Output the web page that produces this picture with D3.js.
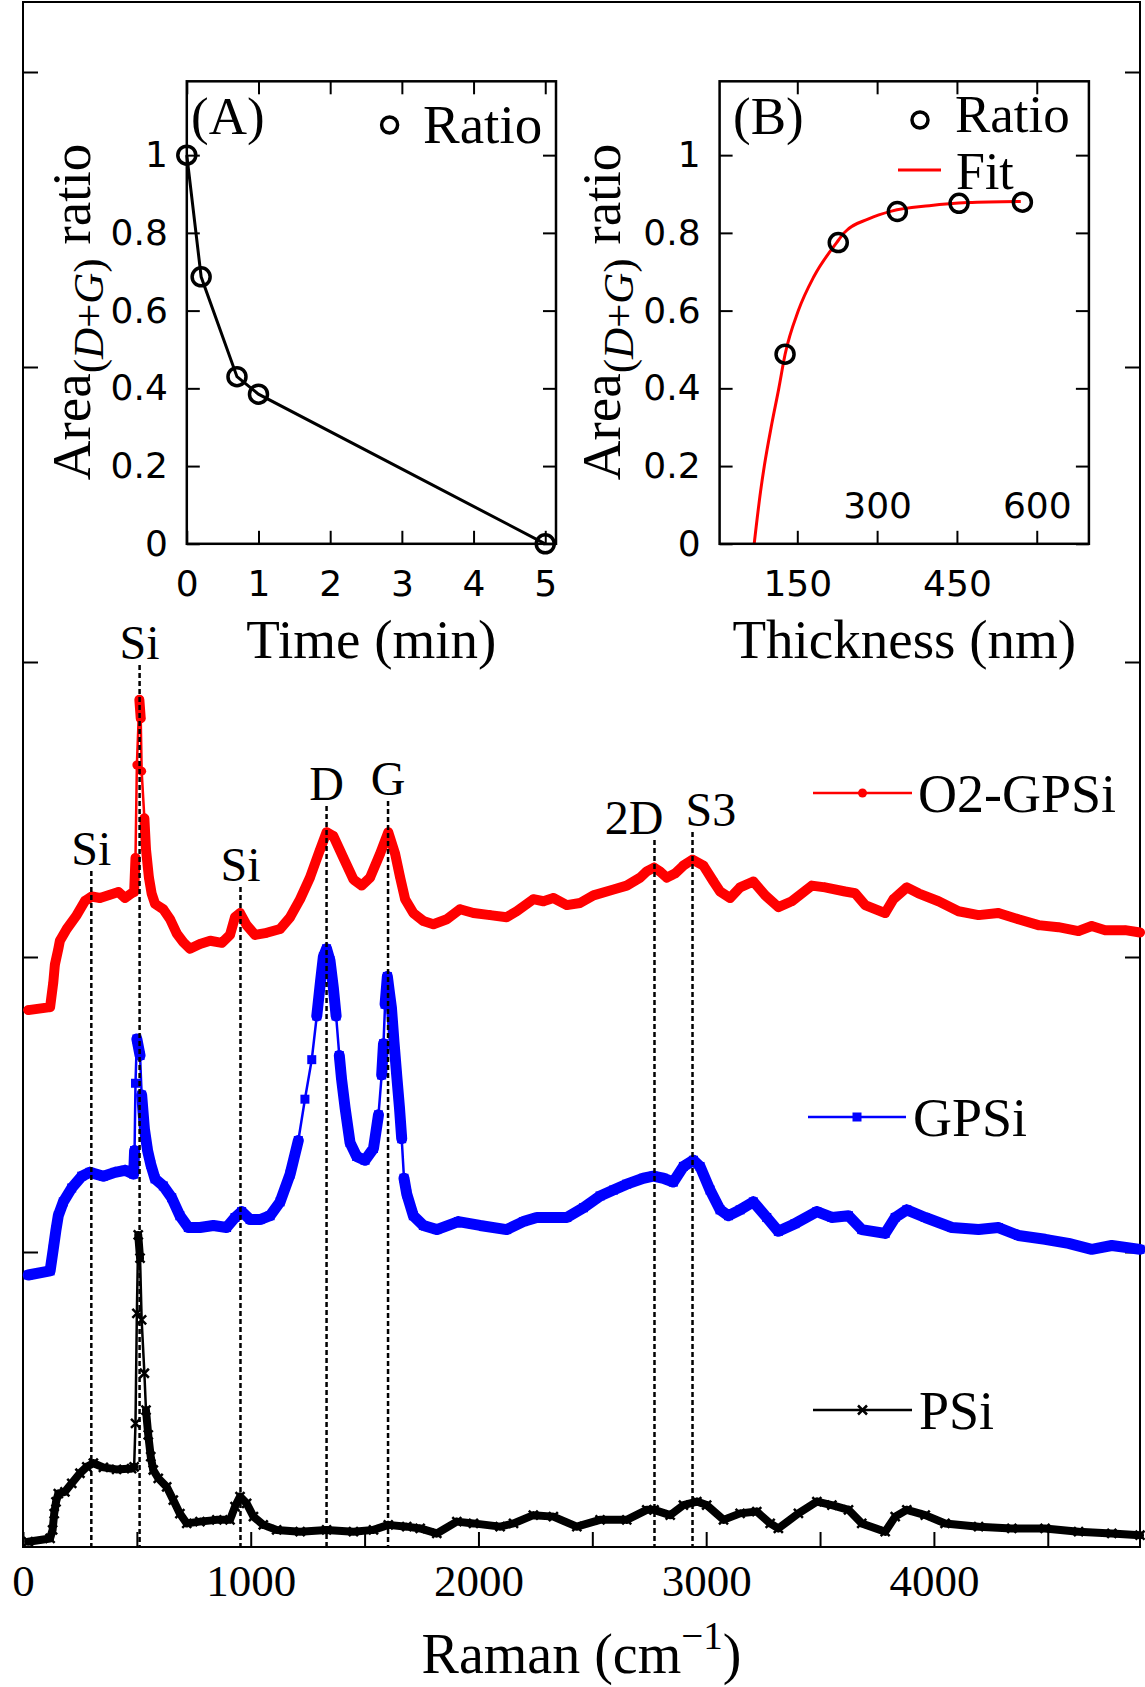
<!DOCTYPE html>
<html lang="en">
<head>
  <meta charset="UTF-8">
  <title>Raman spectra</title>
  <script src="https://d3js.org/d3.v7.min.js"></script>
  <style>
    body { margin: 0; background: #fff; }
    text { font-family: 'Liberation Serif'; }
    text.sans { font-family: 'DejaVu Sans'; }
  </style>
</head>
<body>
  <svg id="chart" width="1145" height="1687" font-family="Liberation Serif"></svg>
  <script>
    // ---- main spectra (Raman shift, cm-1 / stacked intensity) ----
    const o2Shift = [23,119,133,140,155,162,192,236,272,302,338,382,419,448,477,488,494,500,511,517,521,533,540,553,565,580,616,646,675,704,733,777,822,873,909,931,953,982,1019,1070,1129,1173,1217,1260,1304,1333,1363,1407,1451,1487,1524,1568,1604,1634,1656,1678,1714,1758,1802,1861,1919,1978,2051,2124,2168,2241,2285,2329,2388,2446,2505,2593,2651,2710,2739,2771,2797,2827,2863,2900,2940,2988,3032,3061,3105,3149,3207,3259,3317,3376,3464,3522,3610,3654,3698,3786,3822,3881,3932,4020,4108,4196,4283,4371,4459,4547,4635,4693,4752,4840,4905];
    const o2Int = [1.82,1.83,1.914,1.974,2.027,2.055,2.095,2.142,2.19,2.205,2.2,2.211,2.22,2.2,2.216,2.22,2.336,2.651,2.872,2.809,2.63,2.47,2.365,2.269,2.215,2.18,2.162,2.128,2.08,2.05,2.028,2.044,2.055,2.048,2.075,2.135,2.149,2.108,2.075,2.082,2.095,2.135,2.196,2.269,2.363,2.423,2.41,2.336,2.263,2.242,2.269,2.35,2.423,2.35,2.27,2.196,2.149,2.122,2.111,2.128,2.162,2.149,2.142,2.135,2.155,2.196,2.189,2.2,2.176,2.183,2.209,2.229,2.242,2.269,2.29,2.303,2.29,2.269,2.283,2.31,2.33,2.31,2.256,2.222,2.2,2.236,2.256,2.209,2.169,2.189,2.242,2.236,2.222,2.216,2.176,2.149,2.196,2.236,2.216,2.189,2.155,2.142,2.149,2.128,2.108,2.101,2.088,2.105,2.091,2.091,2.083];

    const gpsiShift = [23,119,133,145,155,177,214,258,294,353,404,448,486,490,494,500,514,521,533,547,561,580,616,653,689,726,777,836,894,931,960,997,1041,1085,1129,1173,1209,1238,1268,1290,1307,1319,1333,1348,1363,1375,1389,1399,1414,1436,1465,1502,1539,1561,1575,1583,1590,1600,1609,1618,1629,1641,1653,1663,1673,1685,1714,1758,1817,1912,2007,2124,2197,2256,2388,2461,2534,2593,2651,2724,2768,2812,2856,2900,2944,2973,3017,3061,3098,3149,3207,3266,3317,3390,3486,3552,3625,3683,3786,3830,3881,3962,4079,4196,4283,4371,4488,4591,4693,4781,4905];
    const gpsiInt = [0.922,0.936,1.01,1.076,1.123,1.17,1.217,1.257,1.27,1.257,1.27,1.277,1.264,1.344,1.572,1.722,1.666,1.532,1.418,1.344,1.297,1.248,1.224,1.184,1.123,1.083,1.083,1.09,1.083,1.117,1.137,1.11,1.11,1.123,1.17,1.264,1.378,1.518,1.652,1.8,1.921,2.001,2.028,1.988,1.894,1.8,1.666,1.585,1.491,1.371,1.324,1.311,1.351,1.465,1.6,1.706,1.84,1.934,1.88,1.827,1.713,1.599,1.491,1.384,1.25,1.197,1.123,1.09,1.076,1.103,1.09,1.076,1.103,1.117,1.117,1.15,1.19,1.21,1.23,1.25,1.257,1.25,1.237,1.29,1.311,1.29,1.21,1.143,1.123,1.143,1.17,1.117,1.07,1.096,1.137,1.117,1.123,1.076,1.063,1.117,1.143,1.117,1.083,1.076,1.083,1.056,1.043,1.029,1.009,1.022,1.009];

    const psiShift = [23,119,130,137,145,155,184,214,250,280,309,353,411,477,488,494,500,506,514,521,533,540,550,561,572,594,631,660,689,719,777,851,909,931,953,982,1012,1055,1114,1217,1333,1451,1539,1604,1685,1744,1817,1905,1978,2095,2154,2241,2329,2432,2534,2651,2739,2771,2842,2900,2959,3002,3076,3149,3222,3281,3317,3405,3486,3552,3625,3683,3786,3830,3881,3962,4049,4196,4342,4488,4635,4781,4905];
    const psiInt = [0.018,0.029,0.058,0.113,0.153,0.181,0.187,0.216,0.25,0.272,0.284,0.27,0.263,0.266,0.272,0.419,0.792,1.058,0.979,0.77,0.589,0.464,0.38,0.306,0.261,0.233,0.204,0.159,0.113,0.08,0.086,0.092,0.092,0.137,0.171,0.148,0.103,0.075,0.058,0.052,0.058,0.052,0.058,0.075,0.069,0.063,0.046,0.086,0.08,0.069,0.08,0.108,0.103,0.069,0.092,0.092,0.126,0.126,0.108,0.142,0.154,0.142,0.092,0.114,0.12,0.08,0.063,0.114,0.154,0.142,0.126,0.08,0.052,0.103,0.126,0.108,0.08,0.069,0.063,0.063,0.052,0.046,0.04];

    const peakShift = [300, 512, 955, 1333, 1603, 2773, 2940];
    const peakName = ["Si", "Si", "Si", "D", "G", "2D", "S3"];
    const ramanTicks = [0, 500, 1000, 1500, 2000, 2500, 3000, 3500, 4000, 4500];
    const intensityTicks = [1, 2, 3, 4, 5];

    // ---- inset A: ratio vs etching time ----
    const timeMin = [0, 0.2, 0.7, 1, 5];
    const timeRatio = [1, 0.687, 0.43, 0.385, 0];
    const timeTicks = [0, 1, 2, 3, 4, 5];

    // ---- inset B: ratio vs thickness, with fit ----
    const thickNm = [127, 227, 338, 454, 573];
    const thickRatio = [0.488, 0.775, 0.855, 0.876, 0.879];
    const fitNm = [69, 81, 88, 102, 115, 127, 152, 181, 224, 238, 284, 327, 398, 470, 570];
    const fitRatio = [0, 0.135, 0.2, 0.308, 0.398, 0.487, 0.6, 0.687, 0.775, 0.8, 0.836, 0.856, 0.87, 0.878, 0.881];
    const thickTicks = [150, 300, 450, 600];
    const ratioTicks = [0, 0.2, 0.4, 0.6, 0.8, 1];

    const svg = d3.select("#chart");
    const SERIF = "Liberation Serif";
    const SANS = "DejaVu Sans";

    function setFont(sel, fam) {
      return sel.attr("font-family", fam).style("font-family", `'${fam}'`);
    }
    function label(parent, px, py, size, str, anchor) {
      const t = parent.append("text").attr("font-size", size)
        .attr("x", px).attr("y", py).attr("text-anchor", anchor || "start").attr("fill", "#000");
      if (str != null) t.text(str);
      return setFont(t, SERIF);
    }

    // main frame
    const M = { left: 23, right: 1140, top: 2, bottom: 1547 };
    const x = d3.scaleLinear().domain([0, 4905]).range([M.left, M.right]);
    const y = d3.scaleLinear().domain([0, (M.bottom - M.top) / 295]).range([M.bottom, M.top]);

    function styleAxis(g, font, size) {
      setFont(g, font).attr("font-size", size);
      g.select(".domain").remove();
      g.selectAll(".tick line").attr("stroke", "#000").attr("stroke-width", 2);
      const t = g.selectAll(".tick text").attr("fill", "#000");
      setFont(t, font);
      if (font === SANS) t.classed("sans", true);
    }

    svg.append("g").attr("transform", `translate(0,${M.bottom})`)
      .call(d3.axisBottom(x).tickValues(ramanTicks).tickSize(-15).tickPadding(17)
        .tickFormat(d => d % 1000 === 0 ? d : ""))
      .call(g => styleAxis(g, SERIF, 45));
    svg.append("g").attr("transform", `translate(${M.left},0)`)
      .call(d3.axisLeft(y).tickValues(intensityTicks).tickSize(-15).tickFormat(""))
      .call(g => styleAxis(g, SERIF, 45));
    svg.append("g").attr("transform", `translate(${M.right},0)`)
      .call(d3.axisRight(y).tickValues(intensityTicks).tickSize(-15).tickFormat(""))
      .call(g => styleAxis(g, SERIF, 45));

    svg.append("rect").attr("x", M.left).attr("y", M.top)
      .attr("width", M.right - M.left).attr("height", M.bottom - M.top)
      .attr("fill", "none").attr("stroke", "#000").attr("stroke-width", 2);

    // x title
    const xt = label(svg, (M.left + M.right) / 2, 1673, 56, null, "middle");
    xt.append("tspan").text("Raman (cm");
    xt.append("tspan").attr("font-size", 39).attr("dy", -24).text("\u22121");
    xt.append("tspan").attr("dy", 24).text(")");

    // marker shapes
    const markers = {
      circle: (g, px, py, c) => g.append("circle").attr("cx", px).attr("cy", py).attr("r", 4.5).attr("fill", c),
      square: (g, px, py, c) => g.append("rect").attr("x", px - 4.5).attr("y", py - 4.5).attr("width", 9).attr("height", 9).attr("fill", c),
      cross: (g, px, py, c) => g.append("path")
        .attr("d", `M${px - 4.5},${py - 4.5}L${px + 4.5},${py + 4.5}M${px - 4.5},${py + 4.5}L${px + 4.5},${py - 4.5}`)
        .attr("stroke", c).attr("stroke-width", 2.5)
    };

    function drawSpectrum(xs, ys, color, bandWidth, marker) {
      const g = svg.append("g");
      const pts = xs.map((v, i) => [x(v), y(ys[i])]);
      // densely sampled stretches: markers merge into a solid band
      let band = "";
      for (let i = 1; i < pts.length; i++) {
        const [x0, y0] = pts[i - 1], [x1, y1] = pts[i];
        if (Math.hypot(x1 - x0, y1 - y0) < 36) band += `M${x0},${y0}L${x1},${y1}`;
      }
      g.append("path").attr("d", band).attr("fill", "none").attr("stroke", color)
        .attr("stroke-width", bandWidth).attr("stroke-linecap", "round").attr("stroke-linejoin", "round");
      g.append("path").attr("d", d3.line()(pts)).attr("fill", "none")
        .attr("stroke", color).attr("stroke-width", 2.5);
      pts.forEach(p => markers[marker](g, p[0], p[1], color));
    }

    drawSpectrum(o2Shift, o2Int, "#ff0000", 10, "circle");
    drawSpectrum(gpsiShift, gpsiInt, "#0000ff", 11, "square");
    drawSpectrum(psiShift, psiInt, "#000000", 8, "cross");

    // peak markers: dashed lines + labels
    const peakLabelBase = [865, 659, 881, 800, 795, 834, 826];
    const peakAnchor = ["middle", "middle", "middle", "middle", "middle", "end", "start"];
    const peakDx = [0, 0, 0, 0, 0, 9, -7];
    peakShift.forEach((s, i) => {
      svg.append("line").attr("x1", x(s)).attr("x2", x(s))
        .attr("y1", peakLabelBase[i] + 6).attr("y2", M.bottom)
        .attr("stroke", "#000").attr("stroke-width", 2.5).attr("stroke-dasharray", "5,3");
      label(svg, x(s) + peakDx[i], peakLabelBase[i], 48, peakName[i], peakAnchor[i]);
    });

    // main legend
    const legendRows = [
      { name: "O2-GPSi", color: "#ff0000", marker: "circle", x0: 813, x1: 912, ly: 793, tx: 918, ty: 812 },
      { name: "GPSi", color: "#0000ff", marker: "square", x0: 808, x1: 906, ly: 1117, tx: 913, ty: 1136 },
      { name: "PSi", color: "#000000", marker: "cross", x0: 813, x1: 912, ly: 1410, tx: 919, ty: 1429 }
    ];
    legendRows.forEach(r => {
      svg.append("line").attr("x1", r.x0).attr("x2", r.x1).attr("y1", r.ly).attr("y2", r.ly)
        .attr("stroke", r.color).attr("stroke-width", 2.5);
      markers[r.marker](svg, (r.x0 + r.x1) / 2, r.ly, r.color);
      label(svg, r.tx, r.ty, 54, r.name);
    });

    // ---- insets ----
    function insetFrame(xs, ys, xticks) {
      const [l, r] = xs.range(), [b, t] = ys.range();
      svg.append("rect").attr("x", l).attr("y", t).attr("width", r - l).attr("height", b - t)
        .attr("fill", "#fff");
      svg.append("g").attr("transform", `translate(0,${t})`)
        .call(d3.axisTop(xs).tickValues(xticks).tickSize(-13).tickFormat(""))
        .call(g => styleAxis(g, SANS, 36));
      svg.append("g").attr("transform", `translate(${r},0)`)
        .call(d3.axisRight(ys).tickValues(ratioTicks).tickSize(-13).tickFormat(""))
        .call(g => styleAxis(g, SANS, 36));
      svg.append("g").attr("transform", `translate(${l},0)`)
        .call(d3.axisLeft(ys).tickValues(ratioTicks).tickSize(-13).tickPadding(19)
          .tickFormat(d => d === 0 || d === 1 ? String(d) : d3.format(".1f")(d)))
        .call(g => styleAxis(g, SANS, 36));
    }
    function insetBox(xs, ys) {
      const [l, r] = xs.range(), [b, t] = ys.range();
      svg.append("rect").attr("x", l).attr("y", t).attr("width", r - l).attr("height", b - t)
        .attr("fill", "none").attr("stroke", "#000").attr("stroke-width", 2.5);
    }
    function areaTitle(tx, ty) {
      const t = label(svg, 0, 0, 55, null, "middle")
        .attr("transform", `translate(${tx},${ty}) rotate(-90)`);
      t.append("tspan").text("Area");
      t.append("tspan").attr("font-size", 43).attr("dy", 13).text("(");
      t.append("tspan").attr("font-size", 43).attr("font-style", "italic").text("D");
      t.append("tspan").attr("font-size", 43).text("+");
      t.append("tspan").attr("font-size", 43).attr("font-style", "italic").text("G");
      t.append("tspan").attr("font-size", 43).text(")");
      t.append("tspan").attr("dy", -13).text("\u00A0ratio");
    }

    // inset A
    const xA = d3.scaleLinear().domain([0, 5.15]).range([186.8, 556]);
    const yA = d3.scaleLinear().domain([0, 1.19]).range([543.8, 81.3]);
    insetFrame(xA, yA, timeTicks);
    svg.append("g").attr("transform", `translate(0,${yA(0)})`)
      .call(d3.axisBottom(xA).tickValues(timeTicks).tickSize(-13).tickPadding(27).tickFormat(d3.format("d")))
      .call(g => styleAxis(g, SANS, 36));
    svg.append("path").attr("d", d3.line()(timeMin.map((v, i) => [xA(v), yA(timeRatio[i])])))
      .attr("fill", "none").attr("stroke", "#000").attr("stroke-width", 3);
    timeMin.forEach((v, i) => svg.append("circle").attr("cx", xA(v)).attr("cy", yA(timeRatio[i]))
      .attr("r", 9).attr("fill", "none").attr("stroke", "#000").attr("stroke-width", 3.5));
    insetBox(xA, yA);
    areaTitle(90, 312);
    label(svg, 371.4, 658, 55, "Time (min)", "middle");
    label(svg, 191, 134, 53, "(A)");
    svg.append("circle").attr("cx", 389.6).attr("cy", 125).attr("r", 8)
      .attr("fill", "none").attr("stroke", "#000").attr("stroke-width", 3.5);
    label(svg, 423, 143, 55, "Ratio");

    // inset B
    const xB = d3.scaleLinear().domain([4, 698]).range([719.6, 1088.9]);
    const yB = d3.scaleLinear().domain([0, 1.19]).range([543.8, 81.3]);
    insetFrame(xB, yB, thickTicks);
    svg.append("g").attr("transform", `translate(0,${yB(0)})`)
      .call(d3.axisBottom(xB).tickValues(thickTicks).tickSize(-13).tickPadding(27)
        .tickFormat(d => d === 150 || d === 450 ? d : ""))
      .call(g => styleAxis(g, SANS, 36));
    svg.append("g").attr("transform", `translate(0,${yB(0)})`)
      .call(d3.axisTop(xB).tickValues([300, 600]).tickSize(0).tickPadding(26))
      .call(g => styleAxis(g, SANS, 36));
    svg.append("path").attr("d", d3.line().curve(d3.curveMonotoneX)(fitNm.map((v, i) => [xB(v), yB(fitRatio[i])])))
      .attr("fill", "none").attr("stroke", "#ff0000").attr("stroke-width", 3);
    thickNm.forEach((v, i) => svg.append("circle").attr("cx", xB(v)).attr("cy", yB(thickRatio[i]))
      .attr("r", 9).attr("fill", "none").attr("stroke", "#000").attr("stroke-width", 3.5));
    insetBox(xB, yB);
    areaTitle(620, 312);
    label(svg, 904.3, 658, 55, "Thickness (nm)", "middle");
    label(svg, 733, 134, 53, "(B)");
    svg.append("circle").attr("cx", 920).attr("cy", 120).attr("r", 8)
      .attr("fill", "none").attr("stroke", "#000").attr("stroke-width", 3.5);
    label(svg, 955, 132, 53, "Ratio");
    svg.append("line").attr("x1", 898).attr("x2", 941).attr("y1", 170).attr("y2", 170)
      .attr("stroke", "#ff0000").attr("stroke-width", 3);
    label(svg, 956, 189, 52, "Fit");
  </script>
</body>
</html>
